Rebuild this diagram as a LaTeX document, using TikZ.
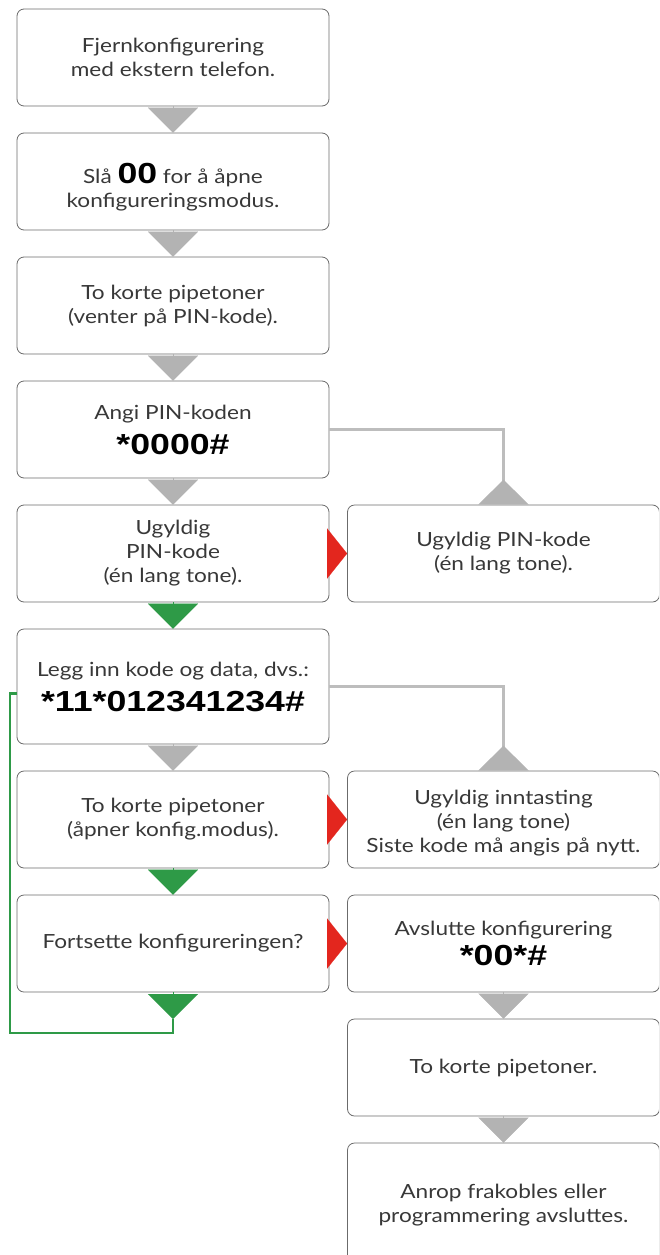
\documentclass[tikz,border=0pt]{standalone}
\usepackage{xcolor}
\usepackage{fontspec}
\setmainfont{Lato}[FakeStretch=1.16]
\newfontfamily\codefont{Liberation Sans}[FakeStretch=1.23]
\usetikzlibrary{positioning, arrows.meta}

\definecolor{boxline}{HTML}{6B6B6B}
\definecolor{txtgray}{HTML}{383838}
\definecolor{tipgray}{HTML}{B3B3B3}
\definecolor{linegray}{HTML}{BDBDBD}
\definecolor{okgreen}{HTML}{2E9A47}
\definecolor{errred}{HTML}{E3261E}
\newcommand{\keycode}[1]{{\codefont\bfseries\fontsize{29}{34}\selectfont\color{black}#1}}

\begin{document}
\begin{tikzpicture}[x=1pt, y=-1pt,
    stepbox/.style={draw=boxline, line width=0.8pt, rounded corners=7pt, fill=white,
                    minimum width=312pt, minimum height=97pt, align=center,
                    text=txtgray, font=\fontsize{19.5}{24}\selectfont, inner sep=4pt},
    tallbox/.style={stepbox, minimum height=115pt},
    endbox/.style={stepbox, minimum height=124pt},
    downtip/.style={line width=0.1pt, -{Triangle[width=50pt, length=25pt]}},
    grayarr/.style={downtip, draw=tipgray},
    greenarr/.style={downtip, draw=okgreen},
    redarr/.style={line width=0.1pt, draw=errred, -{Triangle[width=50pt, length=20pt]}},
    branch/.style={line width=2.5pt, draw=linegray,
                   -{Triangle[reversed, width=50pt, length=25pt, color=tipgray]}},
    loopline/.style={line width=2.5pt, draw=okgreen},
]
\useasboundingbox (0,0) rectangle (659,1255);
\clip (0,0) rectangle (659,1255);

%% ── Left column ──────────────────────────────────────────────────────────
\node[stepbox] (b1) at (173, 57.5) {Fjernkonfigurering\\med ekstern telefon.};
\node[stepbox] (b2) at (173, 181.5) {\rule{0pt}{31pt}Slå \keycode{00} for å åpne\\konfigureringsmodus.};
\node[stepbox] (b3) at (173, 305.5) {To korte pipetoner\\(venter på PIN-kode).};
\node[stepbox] (b4) at (173, 429.5) {Angi PIN-koden\\[11pt]\keycode{*0000\#}};
\node[stepbox] (b5) at (173, 553.5) {Ugyldig\\PIN-kode\\(én lang tone).};
\node[tallbox] (b6) at (173, 686.5) {Legg inn kode og data, dvs.:\\[11pt]\keycode{*11*012341234\#}};
\node[stepbox] (b7) at (173, 819.5) {To korte pipetoner\\(åpner konfig.modus).};
\node[stepbox] (b8) at (173, 943.5) {Fortsette konfigureringen?};

%% ── Right column ─────────────────────────────────────────────────────────
\node[stepbox] (r1) at (503.5, 553.5) {Ugyldig PIN-kode\\(én lang tone).};
\node[stepbox] (r2) at (503.5, 819.5) {\rule{0pt}{22pt}Ugyldig inntasting\\(én lang tone)\\Siste kode må angis på nytt.};
\node[stepbox] (r3) at (503.5, 943.5) {Avslutte konfigurering\\[6pt]\keycode{*00*\#}};
\node[stepbox] (r4) at (503.5, 1067.5) {To korte pipetoner.};
\node[endbox]  (r5) at (503.5, 1205) {Anrop frakobles eller\\programmering avsluttes.};

%% ── Flow tips ────────────────────────────────────────────────────────────
\draw[grayarr] (b1.south) -- (b2.north);
\draw[grayarr] (b2.south) -- (b3.north);
\draw[grayarr] (b3.south) -- (b4.north);
\draw[grayarr] (b4.south) -- (b5.north);
\draw[greenarr] (b5.south) -- (b6.north);
\draw[grayarr] (b6.south) -- (b7.north);
\draw[greenarr] (b7.south) -- (b8.north);
\draw[grayarr] (r3.south) -- (r4.north);
\draw[grayarr] (r4.south) -- (r5.north);

\draw[redarr] (b5.east) -- (r1.west);
\draw[redarr] (b7.east) -- (r2.west);
\draw[redarr] (b8.east) -- (r3.west);

%% ── Branches to the right ────────────────────────────────────────────────
\draw[branch] (b4.east) -| (r1.north);
\draw[branch] (b6.east) -| (r2.north);

%% ── Loop back ────────────────────────────────────────────────────────────
\coordinate (b8tip) at (173, 1019);
\coordinate (loopcorner) at (10, 1033);
\draw[greenarr] (b8.south) -- (b8tip);
\draw[loopline] (b8tip) |- (loopcorner) |- ([yshift=-7pt]b6.west);

\end{tikzpicture}
\end{document}
